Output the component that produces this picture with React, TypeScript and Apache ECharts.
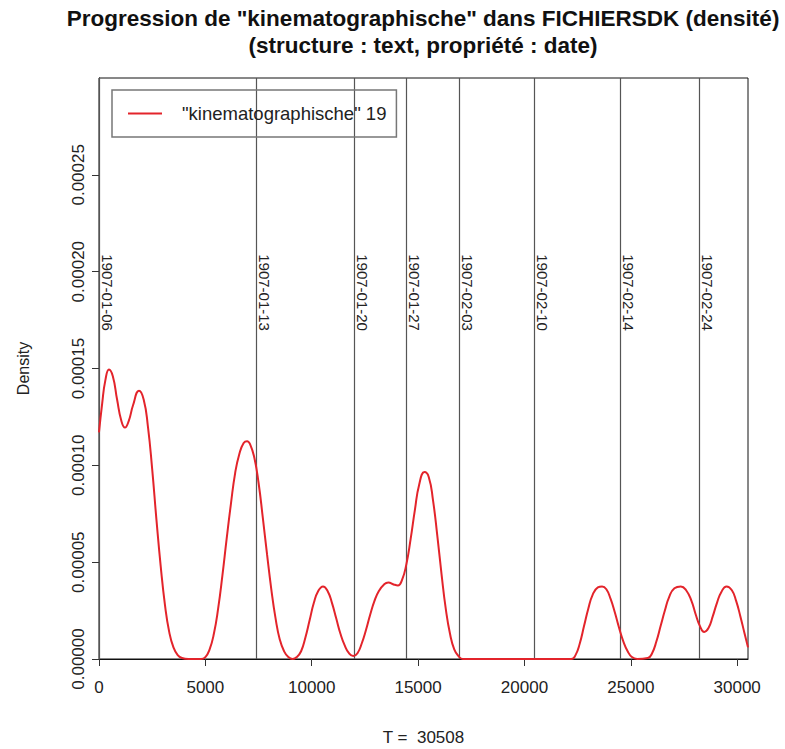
import React, { useEffect, useRef } from "react";
import * as echarts from "echarts";

// Density curve, x in T units, y in units of 1e-5
const curveX = [
  0, 150, 300, 470, 650, 850, 1050, 1220, 1400, 1600, 1880, 2100, 2300, 2500, 2700, 2900, 3100, 3300, 3500, 3700, 3900, 4200,
  4800, 5000, 5200, 5400, 5600, 5800, 6000, 6200, 6400, 6600, 6800, 6960, 7100, 7300, 7500, 7700, 7900, 8100, 8300, 8500, 8700,
  8900, 9100, 9300, 9500, 9700, 9900, 10100, 10300, 10530, 10750, 10950, 11150, 11350, 11550, 11750, 11950, 12150, 12350, 12550,
  12750, 12950, 13150, 13400, 13600, 13850, 14050, 14250, 14450, 14650, 14850, 15050, 15300, 15500, 15700, 15900, 16100, 16300,
  16500, 16700, 16900, 17100, 22200, 22400, 22600, 22800, 23000, 23200, 23450, 23650, 23850, 24050, 24250, 24450, 24650, 24850,
  25050, 25300, 25800, 26000, 26200, 26400, 26600, 26800, 27050, 27350, 27600, 27850, 28050, 28250, 28450, 28650, 28850, 29050,
  29250, 29500, 29750, 29950, 30150, 30350, 30508,
];
const curveY = [
  11.7, 13.2, 14.4, 14.95, 14.6, 13.4, 12.3, 11.95, 12.3, 13.1, 13.85, 13.4, 12.0, 9.8, 7.2, 4.8, 2.8, 1.4, 0.6, 0.2, 0.05, 0.0,
  0.0, 0.1, 0.5, 1.3, 2.6, 4.3, 6.2, 8.0, 9.6, 10.6, 11.15, 11.25, 11.1, 10.4, 9.1, 7.3, 5.4, 3.6, 2.1, 1.0, 0.4,
  0.1, 0.0, 0.1, 0.4, 1.1, 2.0, 2.9, 3.5, 3.75, 3.5, 2.9, 2.1, 1.3, 0.7, 0.3, 0.15, 0.3, 0.8, 1.5,
  2.3, 3.0, 3.5, 3.85, 3.95, 3.85, 3.8, 4.1, 4.9, 6.2, 7.7, 9.0, 9.65, 9.4, 8.2, 6.4, 4.4, 2.6,
  1.3, 0.5, 0.15, 0.0, 0.0, 0.2, 0.8, 1.7, 2.6, 3.3, 3.7, 3.75, 3.6, 3.1, 2.4, 1.6, 0.9, 0.4,
  0.1, 0.0, 0.05, 0.3, 0.9, 1.7, 2.5, 3.2, 3.65, 3.75, 3.55, 3.0, 2.3, 1.7, 1.4, 1.6, 2.2, 2.9,
  3.45, 3.75, 3.55, 3.0, 2.2, 1.3, 0.6,
];

const eventDates = ["1907-01-06", "1907-01-13", "1907-01-20", "1907-01-27", "1907-02-03", "1907-02-10", "1907-02-14", "1907-02-24"];
const eventX = [0, 7380, 11990, 14430, 16920, 20450, 24490, 28200];

const xTicks = [0, 5000, 10000, 15000, 20000, 25000, 30000];
const yTicks = [0, 0.00005, 0.0001, 0.00015, 0.0002, 0.00025];

const titleLines = ['Progression de "kinematographische" dans FICHIERSDK (densité)', "(structure : text, propriété : date)"];
const seriesName = '"kinematographische" 19';
const xName = "T =  30508";
const yName = "Density";
const totalT = 30508;
const yMax = 0.0003;
const labelY = 0.000209;

const FONT = "'Liberation Sans', Arial, Helvetica, sans-serif";

export default function App() {
  const ref = useRef<HTMLDivElement>(null);
  useEffect(() => {
    document.body.style.margin = "0";
    if (!ref.current) return;
    const chart = echarts.init(ref.current, undefined, { renderer: "svg" });
    const data = curveX.map((x, i) => [x, curveY[i] * 1e-5]);
    chart.setOption({
      animation: false,
      backgroundColor: "#fff",
      textStyle: { fontFamily: FONT },
      grid: {
        left: 99,
        right: 37,
        top: 78,
        bottom: 90,
        show: true,
        borderColor: "#111",
        borderWidth: 1,
        backgroundColor: "transparent",
        outerBoundsMode: "none",
      },
      legend: {
        show: true,
        left: 112,
        top: 90,
        orient: "horizontal",
        padding: [14, 10, 14, 16],
        borderColor: "#777",
        borderWidth: 1.5,
        borderRadius: 0,
        itemWidth: 34,
        itemHeight: 16,
        textStyle: { fontSize: 18.5, color: "#222", fontFamily: FONT, padding: [0, 0, 0, 15] },
        data: [{ name: seriesName, icon: "path://M0,7 L34,7 L34,9 L0,9 Z", itemStyle: { color: "#e3242b" } }],
        selectedMode: false,
      },
      xAxis: {
        type: "value",
        min: 0,
        max: totalT,
        interval: 5000,
        name: xName,
        nameLocation: "middle",
        nameGap: 70,
        nameTextStyle: { fontSize: 17, color: "#222", fontFamily: FONT, verticalAlign: "top" },
        axisLine: { show: true, lineStyle: { color: "#111", width: 1 } },
        axisTick: { show: true, length: 7, lineStyle: { color: "#333" }, customValues: xTicks },
        axisLabel: {
          fontSize: 17,
          color: "#222",
          margin: 20,
          customValues: xTicks,
          fontFamily: FONT,
          formatter: (v: number) => String(v),
        },
        splitLine: { show: false },
      },
      yAxis: {
        type: "value",
        min: 0,
        max: yMax,
        interval: 0.00005,
        name: yName,
        nameLocation: "middle",
        nameGap: 68,
        nameRotate: 90,
        nameTextStyle: { fontSize: 16, color: "#222", fontFamily: FONT },
        axisLine: { show: true, lineStyle: { color: "#111", width: 1 } },
        axisTick: { show: true, length: 7, lineStyle: { color: "#333" }, customValues: yTicks },
        axisLabel: {
          fontSize: 17,
          color: "#222",
          rotate: 90,
          margin: 12,
          customValues: yTicks,
          fontFamily: FONT,
          formatter: (v: number) => v.toFixed(5),
        },
        splitLine: { show: false },
      },
      series: [
        {
          name: seriesName,
          type: "line",
          data,
          showSymbol: false,
          symbol: "none",
          smooth: 0.5,
          lineStyle: { color: "#e3242b", width: 2 },
          itemStyle: { color: "#e3242b" },
          silent: true,
          z: 3,
          markLine: {
            silent: true,
            symbol: ["none", "none"],
            label: { show: false },
            lineStyle: { color: "#555", width: 1.2, type: "solid" },
            emphasis: { disabled: true },
            data: eventX.map((x) => ({ xAxis: x })),
            z: 1,
          },
        },
      ],
    });

    const labels = eventX.map((x, i) => {
      const p = chart.convertToPixel({ gridIndex: 0 }, [x, labelY]) as number[];
      return {
        type: "text",
        x: p[0] + 1,
        y: p[1],
        rotation: -Math.PI / 2,
        silent: true,
        z: 10,
        style: {
          text: eventDates[i],
          fontSize: 15,
          fontFamily: FONT,
          fill: "#222",
          align: "left",
          verticalAlign: "bottom",
        },
      };
    });
    const titles = titleLines.map((t, i) => ({
      type: "text",
      x: 423,
      y: 18 + i * 27,
      silent: true,
      style: {
        text: t,
        fontSize: 22.5,
        fontWeight: "bold",
        fontFamily: FONT,
        fill: "#111",
        align: "center",
        verticalAlign: "middle",
      },
    }));
    chart.setOption({ graphic: [...titles, ...labels] });

    return () => chart.dispose();
  }, []);
  return <div ref={ref} style={{ width: 785, height: 749 }} />;
}
